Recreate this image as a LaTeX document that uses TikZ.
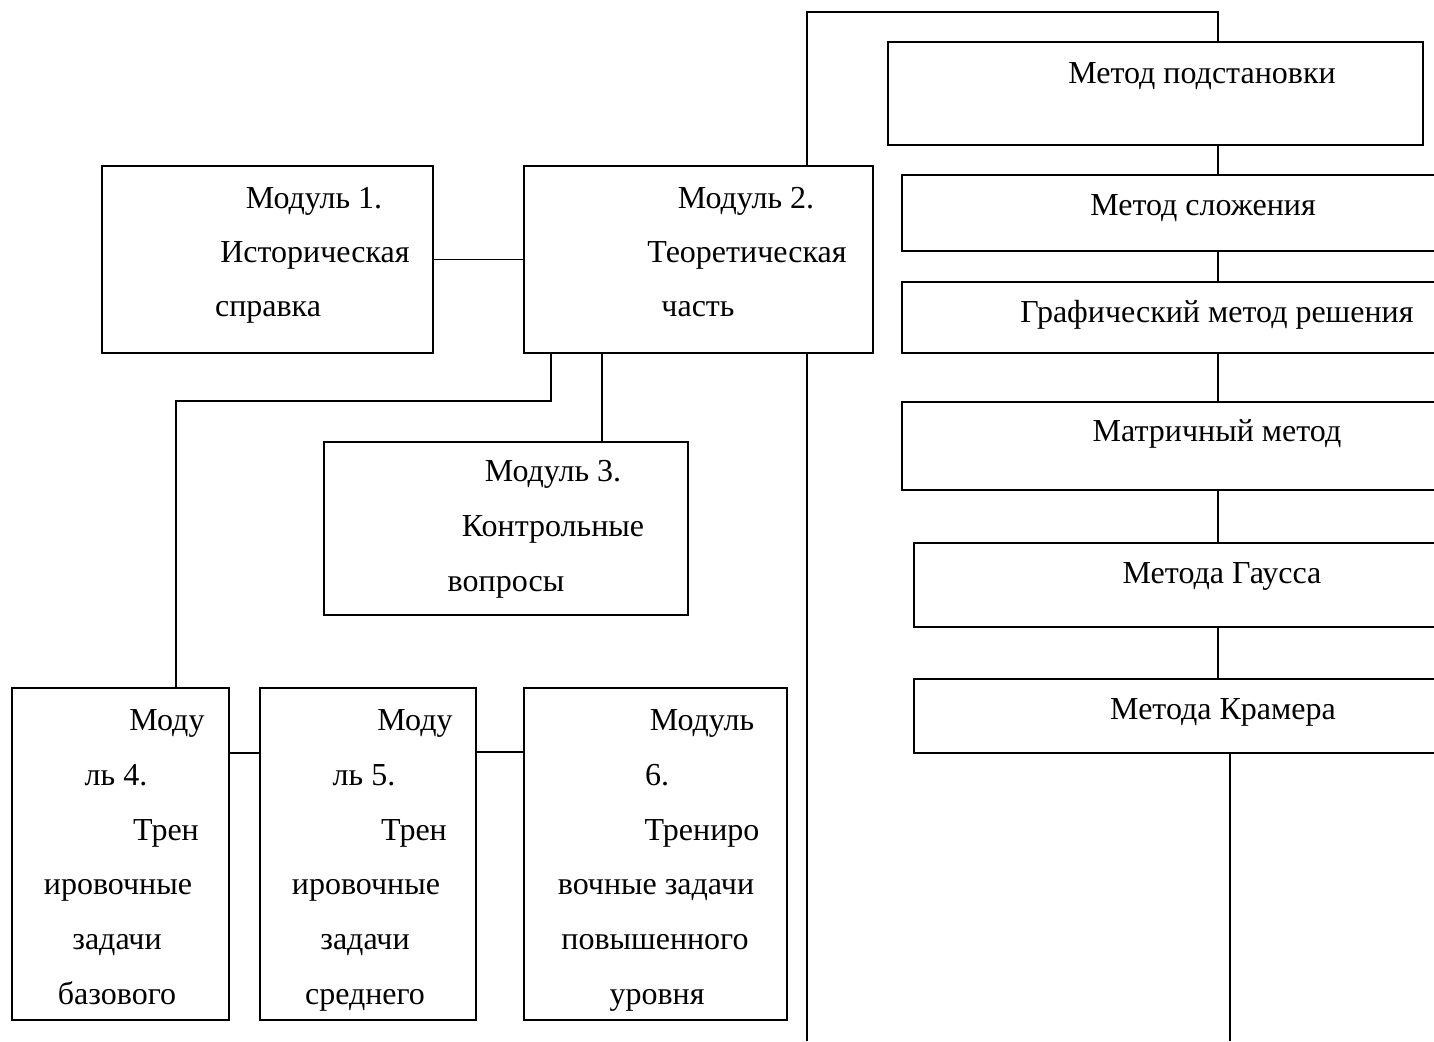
\documentclass[tikz,border=0pt]{standalone}
\usepackage{fontspec}
\setmainfont{Liberation Serif}
\begin{document}
\begin{tikzpicture}[x=1pt,y=-1pt,
  box/.style={draw,line width=1.6pt,rectangle,inner sep=0pt,outer sep=0pt},
  lbl/.style={anchor=base,inner sep=0pt,font=\fontsize{32}{38}\selectfont},
  conn/.style={line width=1.6pt}]
\useasboundingbox (0,0) rectangle (1434,1041);
\clip (0,0) rectangle (1434,1041);
% left boxes
\node[box,minimum width=331,minimum height=187] (m1) at (267.5,259.5) {};
\node[box,minimum width=349,minimum height=187] (m2) at (698.5,259.5) {};
\node[box,minimum width=364,minimum height=173] (m3) at (506,528.5) {};
\node[box,minimum width=217,minimum height=332] (m4) at (120.5,854) {};
\node[box,minimum width=216,minimum height=332] (m5) at (368,854) {};
\node[box,minimum width=263,minimum height=332] (m6) at (655.5,854) {};
% right boxes
\node[box,minimum width=535,minimum height=103] (s1) at (1155.5,93.5) {};
\node[box,minimum width=543,minimum height=76] (s2) at (1173.5,213) {};
\node[box,minimum width=543,minimum height=71] (s3) at (1173.5,317.5) {};
\node[box,minimum width=543,minimum height=88] (s4) at (1173.5,446) {};
\node[box,minimum width=531,minimum height=84] (s5) at (1179.5,585) {};
\node[box,minimum width=531,minimum height=74] (s6) at (1179.5,716) {};
% texts
\node[lbl] (t11) at (314,208) {Модуль 1.};
\node[lbl] (t12) at (315,262) {Историческая};
\node[lbl] (t13) at (268,316) {справка};
\node[lbl] (t21) at (746,208) {Модуль 2.};
\node[lbl] (t22) at (747,262) {Теоретическая};
\node[lbl] (t23) at (698,316) {часть};
\node[lbl] (t31) at (553,481) {Модуль 3.};
\node[lbl] (t32) at (553,536) {Контрольные};
\node[lbl] (t33) at (506,591) {вопросы};
\node[lbl] (t41) at (167,730) {Моду};
\node[lbl] (t42) at (116,785) {ль 4.};
\node[lbl] (t43) at (166,840) {Трен};
\node[lbl] (t44) at (118,894) {ировочные};
\node[lbl] (t45) at (117,949) {задачи};
\node[lbl] (t46) at (117,1004) {базового};
\node[lbl] (t51) at (415,730) {Моду};
\node[lbl] (t52) at (364,785) {ль 5.};
\node[lbl] (t53) at (414,840) {Трен};
\node[lbl] (t54) at (366,894) {ировочные};
\node[lbl] (t55) at (365,949) {задачи};
\node[lbl] (t56) at (365,1004) {среднего};
\node[lbl] (t61) at (702,730) {Модуль};
\node[lbl] (t62) at (657,785) {6.};
\node[lbl] (t63) at (702,840) {Трениро};
\node[lbl] (t64) at (656,894) {вочные задачи};
\node[lbl] (t65) at (655,949) {повышенного};
\node[lbl] (t66) at (657,1004) {уровня};
\node[lbl] (r1) at (1202,83) {Метод подстановки};
\node[lbl] (r2) at (1203,215) {Метод сложения};
\node[lbl] (r3) at (1217,322) {Графический метод решения};
\node[lbl] (r4) at (1217,441) {Матричный метод};
\node[lbl] (r5) at (1222,583) {Метода Гаусса};
\node[lbl] (r6) at (1223,719) {Метода Крамера};
% helper coordinates
\coordinate (tl) at (807,12);
\coordinate (cx) at (1218,0);
\coordinate (e2) at (807,1041);
\coordinate (e6) at (1230,1041);
\coordinate (k1) at (551,401);
\coordinate (k2) at (176,401);
\coordinate (c3) at (602,0);
\coordinate (h1) at (0,753);
\coordinate (h2) at (0,752);
% connectors
\draw[conn] (m1.east) -- (m2.west);
\draw[conn] (m2.north -| tl) -- (tl) -| (s1.north -| cx);
\draw[conn] (s1.south -| cx) -- (s2.north -| cx);
\draw[conn] (s2.south -| cx) -- (s3.north -| cx);
\draw[conn] (s3.south -| cx) -- (s4.north -| cx);
\draw[conn] (s4.south -| cx) -- (s5.north -| cx);
\draw[conn] (s5.south -| cx) -- (s6.north -| cx);
\draw[conn] (s6.south -| e6) -- (e6);
\draw[conn] (m2.south -| e2) -- (e2);
\draw[conn] (m2.south -| k1) -- (k1) -- (k2) -- (m4.north -| k2);
\draw[conn] (m2.south -| c3) -- (m3.north -| c3);
\draw[conn] (m4.east |- h1) -- (m5.west |- h1);
\draw[conn] (m5.east |- h2) -- (m6.west |- h2);
\end{tikzpicture}
\end{document}
